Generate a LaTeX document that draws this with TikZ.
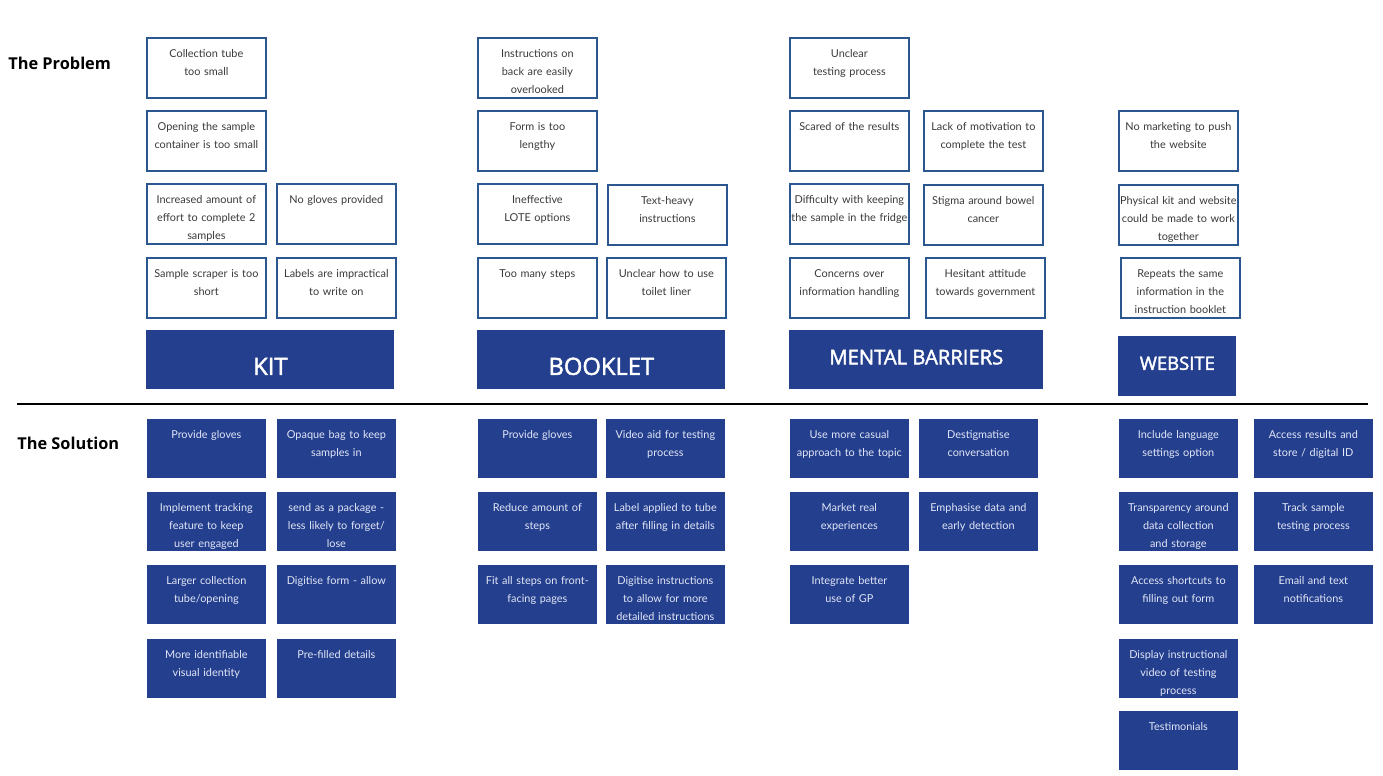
\documentclass[tikz,border=0pt]{standalone}
\usepackage{fontspec}
\setmainfont{Lato}
\newfontfamily\headfont{Open Sans}
\newfontfamily\groupfont{Open Sans}[FakeBold=2]
\definecolor{barblue}{HTML}{233F8E}
\definecolor{edgeblue}{HTML}{2B5690}
\definecolor{notegray}{HTML}{3A3A3A}
\definecolor{paleblue}{HTML}{E2E6F6}

\begin{document}
\begin{tikzpicture}[x=0.02cm,y=-0.02cm,
	problem/.style={draw=edgeblue,line width=1pt,fill=white,anchor=north west,inner sep=0pt,
		text width=2.38cm,align=center,text height=0.39cm,text depth=0.81cm,text=notegray,
		font=\fontsize{6.2}{10.2}\selectfont},
	solution/.style={problem,draw=none,fill=barblue,text=paleblue,text depth=0.79cm},
	group/.style={fill=barblue,anchor=north west,inner sep=0pt,text=white,minimum height=1.18cm,text depth=0pt},
	heading/.style={anchor=west,inner sep=0pt,font=\headfont\bfseries\fontsize{9.3}{11}\selectfont}]
	\useasboundingbox (0,0) rectangle (1383,775);

	\node[heading] (problem) at (8,63) {The Problem};
	\node[heading] (solution) at (17,443) {The Solution};

	% kit
	\node[problem] (kp1) at (146,37) {Collection tube\\too small};
	\node[problem] (kp2) at (146,110) {Opening the sample\\container is too small};
	\node[problem] (kp3) at (146,183) {Increased amount of\\effort to complete 2\\samples};
	\node[problem] (kp4) at (276,183) {No gloves provided};
	\node[problem] (kp5) at (146,257) {Sample scraper is too\\short};
	\node[problem] (kp6) at (276,257) {Labels are impractical\\to write on};
	\node[group,minimum width=4.96cm,text height=0.6cm,font=\groupfont\fontsize{13.5}{15}\selectfont] (kit) at (146,330) {KIT};

	% booklet
	\node[problem] (bp1) at (477,37) {Instructions on\\back are easily\\overlooked};
	\node[problem] (bp2) at (477,110) {Form is too\\lengthy};
	\node[problem] (bp3) at (477,183) {Ineffective\\LOTE options};
	\node[problem] (bp4) at (607,184) {Text-heavy\\instructions};
	\node[problem] (bp5) at (477,257) {Too many steps};
	\node[problem] (bp6) at (606,257) {Unclear how to use\\toilet liner};
	\node[group,minimum width=4.96cm,text height=0.6cm,font=\groupfont\fontsize{13.5}{15}\selectfont] (booklet) at (477,330) {BOOKLET};

	% mental barriers
	\node[problem] (mp1) at (789,37) {Unclear\\testing process};
	\node[problem] (mp2) at (789,110) {Scared of the results};
	\node[problem] (mp3) at (923,110) {Lack of motivation to\\complete the test};
	\node[problem] (mp4) at (789,183) {Difficulty with keeping\\the sample in the fridge};
	\node[problem] (mp5) at (923,184) {Stigma around bowel\\cancer};
	\node[problem] (mp6) at (789,257) {Concerns over\\information handling};
	\node[problem] (mp7) at (925,257) {Hesitant attitude\\towards government};
	\node[group,minimum width=5.08cm,text height=0.18cm,font=\groupfont\fontsize{11.5}{13}\selectfont] (mental) at (789,330) {MENTAL BARRIERS};

	% website
	\node[problem] (wp1) at (1118,110) {No marketing to push\\the website};
	\node[problem] (wp2) at (1118,184) {Physical kit and website\\could be made to work\\together};
	\node[problem] (wp3) at (1120,257) {Repeats the same\\information in the\\instruction booklet};
	\node[group,minimum width=2.36cm,minimum height=1.2cm,text height=0.14cm,font=\groupfont\fontsize{10.5}{12}\selectfont] (website) at (1118,336) {WEBSITE};

	\coordinate (ruleL) at (17,404);
	\coordinate (ruleR) at (1368,404);
	\draw[line width=1.1pt] (ruleL) -- (ruleR);

	% solutions
	\node[solution] (ks1) at (146,418) {Provide gloves};
	\node[solution] (ks2) at (276,418) {Opaque bag to keep\\samples in};
	\node[solution] (ks3) at (146,491) {Implement tracking\\feature to keep\\user engaged};
	\node[solution] (ks4) at (276,491) {send as a package -\\less likely to forget/\\lose};
	\node[solution] (ks5) at (146,564) {Larger collection\\tube/opening};
	\node[solution] (ks6) at (276,564) {Digitise form - allow};
	\node[solution] (ks7) at (146,638) {More identifiable\\visual identity};
	\node[solution] (ks8) at (276,638) {Pre-filled details};

	\node[solution] (bs1) at (477,418) {Provide gloves};
	\node[solution] (bs2) at (605,418) {Video aid for testing\\process};
	\node[solution] (bs3) at (477,491) {Reduce amount of\\steps};
	\node[solution] (bs4) at (605,491) {Label applied to tube\\after filling in details};
	\node[solution] (bs5) at (477,564) {Fit all steps on front-\\facing pages};
	\node[solution] (bs6) at (605,564) {Digitise instructions\\to allow for more\\detailed instructions};

	\node[solution] (ms1) at (789,418) {Use more casual\\approach to the topic};
	\node[solution] (ms2) at (918,418) {Destigmatise\\conversation};
	\node[solution] (ms3) at (789,491) {Market real\\experiences};
	\node[solution] (ms4) at (918,491) {Emphasise data and\\early detection};
	\node[solution] (ms5) at (789,564) {Integrate better\\use of GP};

	\node[solution] (ws1) at (1118,418) {Include language\\settings option};
	\node[solution] (ws2) at (1253,418) {Access results and\\store / digital ID};
	\node[solution] (ws3) at (1118,491) {Transparency around\\data collection\\and storage};
	\node[solution] (ws4) at (1253,491) {Track sample\\testing process};
	\node[solution] (ws5) at (1118,564) {Access shortcuts to\\filling out form};
	\node[solution] (ws6) at (1253,564) {Email and text\\notifications};
	\node[solution] (ws7) at (1118,638) {Display instructional\\video of testing\\process};
	\node[solution] (ws8) at (1118,710) {Testimonials};
\end{tikzpicture}
\end{document}
